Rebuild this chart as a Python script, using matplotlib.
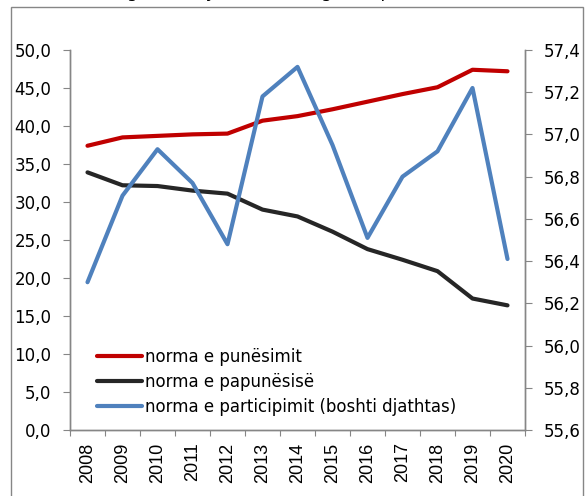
import matplotlib
matplotlib.use("Agg")
import matplotlib.pyplot as plt
from matplotlib.patches import Rectangle
from matplotlib.ticker import FixedLocator, FuncFormatter

# te dhenat e lexuara nga grafiku
years = ['2008', '2009', '2010', '2011', '2012', '2013', '2014',
         '2015', '2016', '2017', '2018', '2019', '2020']
punesimi = [37.4, 38.5, 38.7, 38.9, 39.0, 40.7, 41.3, 42.2, 43.2, 44.2, 45.1, 47.4, 47.2]
papunesia = [33.9, 32.2, 32.1, 31.5, 31.1, 29.0, 28.1, 26.1, 23.8, 22.4, 20.9, 17.3, 16.4]
participimi = [56.30, 56.71, 56.93, 56.77, 56.48, 57.18, 57.32, 56.95, 56.51, 56.80, 56.92, 57.22, 56.41]

labels = ['norma e punësimit', 'norma e papunësisë', 'norma e participimit (boshti djathtas)']
title = 'Treguesit kryesorë të tregut të punës (në %)'

gray = '#868686'
fs = 12

fig = plt.figure(figsize=(5.85, 4.96), dpi=100)
ax = fig.add_axes([70/585, 1-430/496, (525-70)/585, 380/496])
ax2 = ax.twinx()

x = list(range(len(years)))
l1, = ax.plot(x, punesimi, color='#C00000', lw=3, solid_capstyle='round')
l2, = ax.plot(x, papunesia, color='#262626', lw=3, solid_capstyle='round')
l3, = ax2.plot(x, participimi, color='#4F81BD', lw=3, solid_capstyle='round')

ax.set_xlim(-0.5, len(years)-0.5)
ax.set_ylim(0, 50)
ax2.set_ylim(55.6, 57.4)

ax.set_yticks([i*5 for i in range(11)])
ax2.set_yticks([55.6 + i*0.2 for i in range(10)])
ax.yaxis.set_major_formatter(FuncFormatter(lambda v, p: f'{v:.1f}'.replace('.', ',')))
ax2.yaxis.set_major_formatter(FuncFormatter(lambda v, p: f'{v:.1f}'.replace('.', ',')))

# ticks ndermjet kategorive, etiketat ne qender
ax.xaxis.set_major_locator(FixedLocator([i-0.5 for i in range(len(years)+1)]))
ax.xaxis.set_major_formatter(FuncFormatter(lambda v, p: ''))
ax.xaxis.set_minor_locator(FixedLocator(x))
ax.set_xticklabels(years, minor=True, rotation=90, fontfamily='Liberation Sans')
ax.tick_params(axis='x', which='minor', length=0, pad=9, labelsize=13)
ax.tick_params(axis='x', which='major', length=4.5, color=gray, direction='out')
ax.tick_params(axis='y', length=5, color=gray, labelsize=fs, pad=8.5)
ax2.tick_params(axis='y', length=5, color=gray, labelsize=fs, pad=8.5)

for a in (ax, ax2):
    a.spines['top'].set_visible(False)
    for s in ('left', 'right', 'bottom'):
        a.spines[s].set_color(gray)
        a.spines[s].set_linewidth(1)

leg = ax2.legend([l1, l2, l3], labels, loc='lower left',
                 bbox_to_anchor=(0.059, 0.036), frameon=False, fontsize=fs,
                 handlelength=2.7, handletextpad=0.18, labelspacing=0.42,
                 borderpad=0, borderaxespad=0)

# korniza rreth grafikut
fig.patches.append(Rectangle((11/585, -0.05), (583-11)/585, 1.05 - 7/496,
                             transform=fig.transFigure, fill=False,
                             edgecolor=gray, lw=1))
fig.text(300/585, 1+2.5/496, title, ha='center', va='baseline', fontsize=13)

plt.savefig('out.png', dpi=100)
